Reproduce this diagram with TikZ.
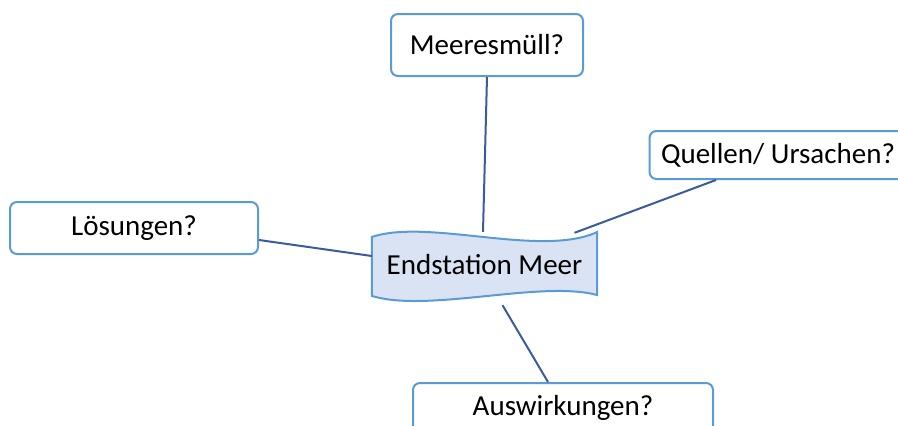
\documentclass[tikz,border=0pt]{standalone}
\usepackage{fontspec}
\setmainfont{Carlito}
\usepackage{xcolor}
\definecolor{boxline}{HTML}{5B9BD5}
\definecolor{linkline}{HTML}{3A5C9E}
\definecolor{wavefill}{HTML}{DAE3F3}

\tikzset{
  topic/.style={draw=boxline, line width=2pt, rounded corners=7pt, fill=white,
    inner sep=0pt, font=\fontsize{29}{34}\selectfont},
  link/.style={draw=linkline, line width=2pt}
}

\begin{document}
\begin{tikzpicture}[x=1pt, y=-1pt]
  % fix the page size
  \useasboundingbox (0,0) rectangle (898,426);
  \clip (0,0) rectangle (898,426);

  % the centre: a wavy band with its title
  \node[inner sep=0pt, minimum width=225pt, minimum height=60pt,
    font=\fontsize{29}{34}\selectfont] (central) at (484.5,265) {};
  \draw[draw=boxline, line width=2pt, fill=wavefill]
    (central.west |- 0,237) .. controls (428,218) and (541,258) .. (central.east |- 0,232)
    -- (597,295) .. controls (541,280) and (428,313) .. (372,296) -- cycle;
  \node[font=\fontsize{29}{34}\selectfont] at (central) {Endstation Meer};

  % the four questions
  \node[topic, minimum width=192pt, minimum height=62pt] (meer) at (487,45) {Meeresmüll?};
  \node[topic, minimum width=257pt, minimum height=48pt] (quellen) at (778,155) {Quellen/ Ursachen?};
  \node[topic, minimum width=248pt, minimum height=52pt] (loesungen) at (134,228) {Lösungen?};
  \node[topic, minimum width=300pt, minimum height=50pt] (auswirkungen) at (563,408) {Auswirkungen?};

  % links to the centre
  \draw[link] (meer.south) -- ([xshift=-1.5pt,yshift=3pt]central.north);
  \draw[link] ([xshift=-62pt]quellen.south) -- ([xshift=90pt,yshift=2pt]central.north);
  \draw[link] ([yshift=-12pt]loesungen.east) -- ([yshift=9pt]central.west);
  \draw[link] ([xshift=18pt,yshift=-10pt]central.south) -- ([xshift=-15pt]auswirkungen.north);
\end{tikzpicture}
\end{document}
